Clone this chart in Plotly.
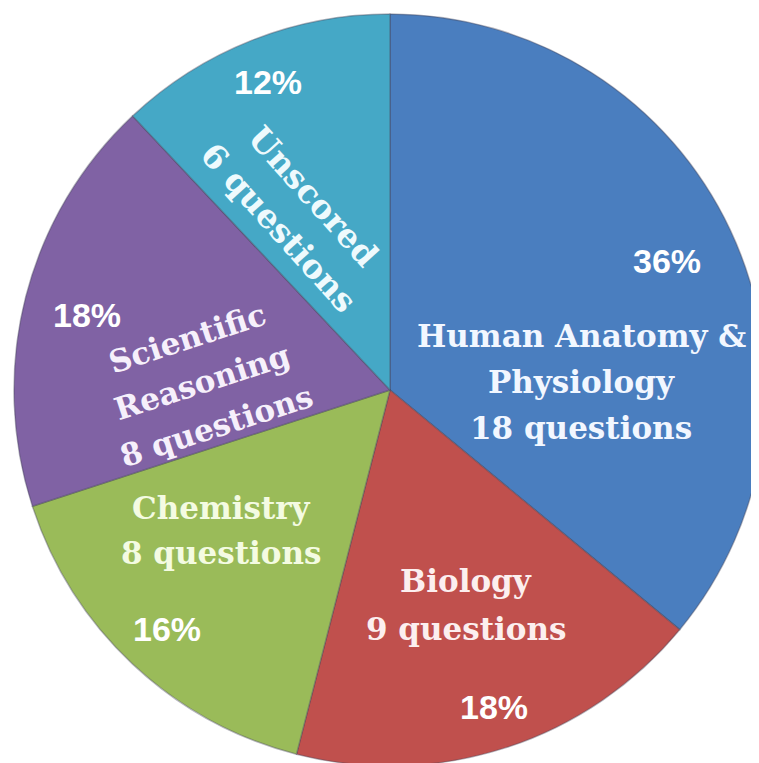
import math
import plotly.graph_objects as go

# ---- data ----
categories = ["Human Anatomy & Physiology", "Biology", "Chemistry",
              "Scientific Reasoning", "Unscored"]
values = [36, 18, 16, 18, 12]
questions = [18, 9, 8, 8, 6]
pct_labels = ["36%", "18%", "16%", "18%", "12%"]
label_lines = [["Human Anatomy &", "Physiology"], ["Biology"], ["Chemistry"],
               ["Scientific", "Reasoning"], ["Unscored"]]

colors = ["#4A7EBF", "#C0504D", "#9ABB59", "#8062A4", "#45A8C6"]
text_colors = ["#F2F7FF", "#FCEFEF", "#F4FBE2", "#F6F0FB", "#EEFAFD"]

W, H = 759, 763
PAGE_OFF = 8          # default body margin of the html page
CX, CY, R = 390, 390, 376   # wanted pie centre / radius on the page


def px(x):
    return (x - PAGE_OFF) / W


def py(y):
    return 1 - (y - PAGE_OFF) / H


fig = go.Figure(go.Pie(
    labels=categories, values=values, sort=False, direction="clockwise",
    rotation=0, textinfo="none", hoverinfo="label+percent",
    marker=dict(colors=colors, line=dict(color="rgba(70,70,90,0.40)", width=1.5)),
    domain=dict(x=[max(0, px(CX - R)), min(1, px(CX + R))],
                y=[max(0, py(CY + R)), min(1, py(CY - R))]),
    showlegend=False,
))

ann = []
SERIF = "DejaVu Serif"
SANS = "Liberation Sans"
PCT_SIZE = 34
# block centers (page px), rotation (deg clockwise), line spacing, font size
blocks = [
    ((581, 382), 0, 46, 31),
    ((466, 605), 0, 48, 31),
    ((221, 530), 0, 45, 31),
    ((202, 382), -18, 46, 31),
    ((296, 212), 48, 47, 33),
]
pct_pos = [(667, 261), (494, 707), (167, 629), (87, 315), (268, 82)]

for i in range(len(categories)):
    lines = label_lines[i] + [f"{questions[i]} questions"]
    (bx, by), ang, sp, fs = blocks[i]
    n = len(lines)
    a = math.radians(ang)
    nx, ny = -math.sin(a), math.cos(a)  # downward normal of the text baseline
    for k, t in enumerate(lines):
        off = (k - (n - 1) / 2) * sp
        x = bx + off * nx
        y = by + off * ny
        ann.append(dict(x=px(x), y=py(y), xref="paper", yref="paper",
                        text=f"<b>{t}</b>", showarrow=False, textangle=ang,
                        xanchor="center", yanchor="middle",
                        font=dict(family=SERIF, size=fs, color=text_colors[i])))
    x, y = pct_pos[i]
    ann.append(dict(x=px(x), y=py(y), xref="paper", yref="paper",
                    text=f"<b>{pct_labels[i]}</b>", showarrow=False,
                    xanchor="center", yanchor="middle",
                    font=dict(family=SANS, size=PCT_SIZE, color="#FFFFFF")))

fig.update_layout(width=W, height=H, margin=dict(l=0, r=0, t=0, b=0),
                  paper_bgcolor="white", plot_bgcolor="white",
                  annotations=ann)

fig.write_html("out.html")
